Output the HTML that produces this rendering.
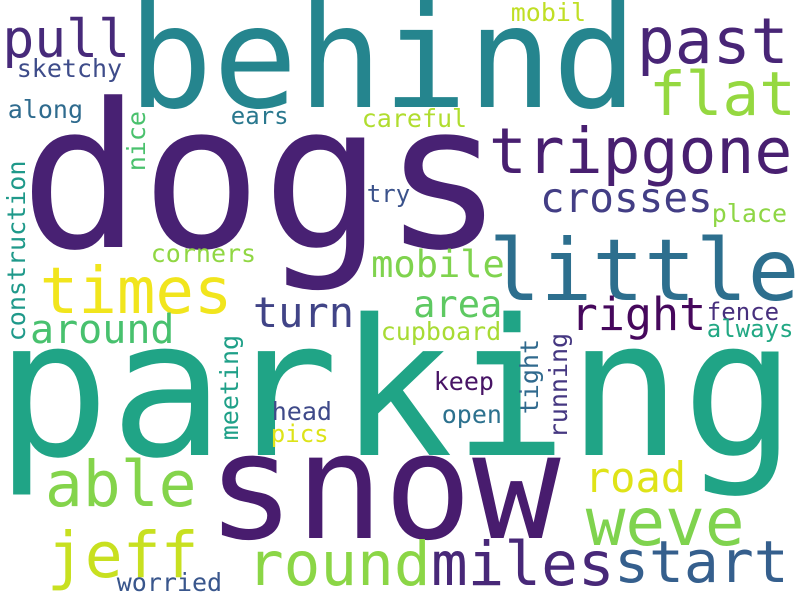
<!DOCTYPE html>
<html><head><meta charset="utf-8"><style>
html,body{margin:0;padding:0;background:#fff;}
svg{display:block;}
text{font-family:"DejaVu Sans Mono","Liberation Mono",monospace;}
</style></head><body>
<svg id="cloud" width="800" height="600" viewBox="0 0 800 600" xmlns="http://www.w3.org/2000/svg">
<rect width="800" height="600" fill="#ffffff"/>
</svg>
<script>
const words = ["dogs","parking","behind","snow","little","tripgone","past","flat","pull","times","crosses","mobile","turn","area","right","around","able","jeff","round","miles","start","weve","road","sketchy","along","ears","careful","mobil","try","place","corners","cupboard","fence","always","keep","open","head","pics","worried","construction","nice","meeting","tight","running"];
const sizes = [201,190,141,147,86,63,63,61,53,64,41,37,42,37,45,40,63,63,61,61,58,66,42,25,25,24,25,25,24,25,25,25,24,24,25,25,25,24,25,25,25,25,25,25];
const colors = ["#482173","#20a486","#25858e","#481c6e","#2d6f8e","#481f70","#482576","#95d840","#472a7a","#f1e51d","#433e85","#7fd34e","#414487","#5ec962","#46085c","#48c16e","#84d44b","#c8e020","#8bd646","#482878","#355f8d","#7fd34e","#dfe318","#3e4c8a","#2f6b8e","#2a788e","#b0dd2f","#c0df25","#3b528b","#8ed645","#90d743","#a8db34","#472f7d","#22a884","#471365","#2c718e","#3e4989","#dde318","#39568c","#1f998a","#4ac16d","#1fa088","#306a8e","#453781"];
const inkLeft = [30,5,135,214,493,492,640,652,5,43,542,373,255,415,573,32,48,50,250,434,617,589,587,18,9,232,363,512,368,713,152,382,708,708,435,443,273,272,118,25,145,238,538,567];
const inkBase = [247,455,107,538,300,173,63,115,57,313,212,277,327,317,330,343,506,577,585,585,582,545,492,77,118,124,127,21,202,222,262,340,320,337,390,423,420,442,591,340,170,439,413,437];
const vertical = [0,0,0,0,0,0,0,0,0,0,0,0,0,0,0,0,0,0,0,0,0,0,0,0,0,0,0,0,0,0,0,0,0,0,0,0,0,0,0,1,1,1,1,1];

const svg = document.getElementById('cloud');
const NS = 'http://www.w3.org/2000/svg';
for (let i = 0; i < words.length; i++) {
  const t = document.createElementNS(NS, 'text');
  const fs = sizes[i];
  t.setAttribute('font-size', fs);
  t.setAttribute('fill', colors[i]);
  if (vertical[i]) {
    t.setAttribute('transform', 'translate(' + inkLeft[i] + ',' + (inkBase[i] + 0.05 * fs) + ') rotate(-90)');
    t.setAttribute('x', 0);
    t.setAttribute('y', 0);
  } else {
    t.setAttribute('x', inkLeft[i] - 0.05 * fs);
    t.setAttribute('y', inkBase[i]);
  }
  t.textContent = words[i];
  
  
  svg.appendChild(t);
}
</script>
</body></html>
